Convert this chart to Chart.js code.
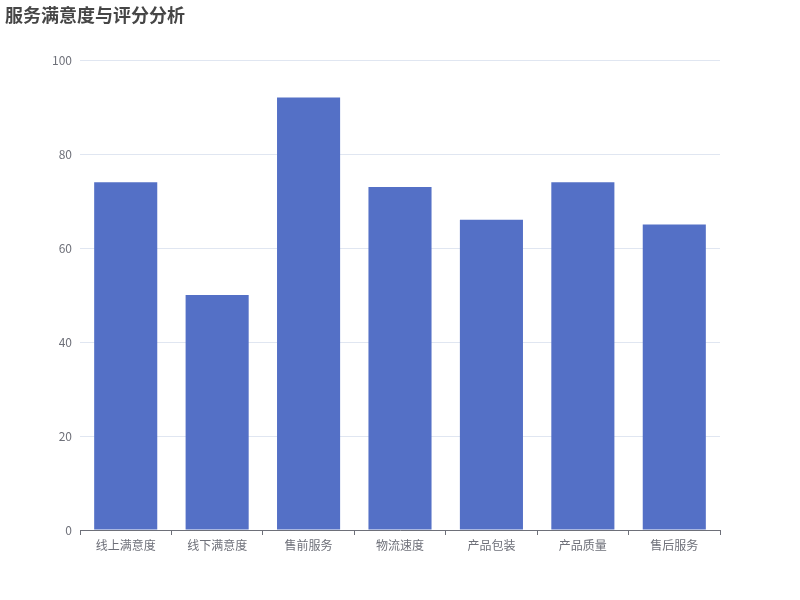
<!DOCTYPE html>
<html>
<head>
<meta charset="utf-8">
<style>
html,body{margin:0;padding:0;background:#fff;}
#wrap{width:800px;height:600px;position:relative;}
</style>
<script src="https://cdn.jsdelivr.net/npm/chart.js@4/dist/chart.umd.min.js"></script>
</head>
<body>
<div id="wrap"><canvas id="c" width="800" height="600"></canvas></div>
<script>
const titleText = '服务满意度与评分分析';
const categories = ['线上满意度','线下满意度','售前服务','物流速度','产品包装','产品质量','售后服务'];
const scores = [74, 50, 92, 73, 66, 74, 65];
const yTicks = [0, 20, 40, 60, 80, 100];

const FONT = '"Noto Sans CJK SC", "Noto Sans", sans-serif';

const titlePlugin = {
  id: 'titleDraw',
  afterDraw(chart) {
    const ctx = chart.ctx;
    ctx.save();
    ctx.font = 'bold 18px ' + FONT;
    ctx.fillStyle = '#464646';
    ctx.textAlign = 'left';
    ctx.textBaseline = 'middle';
    ctx.fillText(titleText, 5, 15);
    ctx.restore();
  }
};

new Chart(document.getElementById('c'), {
  type: 'bar',
  data: {
    labels: categories,
    datasets: [{
      data: scores,
      backgroundColor: '#5470c6',
      borderWidth: 0,
      barPercentage: 0.69,
      categoryPercentage: 1.0
    }]
  },
  options: {
    responsive: false,
    animation: false,
    devicePixelRatio: 1,
    layout: { padding: { top: 60, right: 80, left: 0, bottom: 0 } },
    plugins: { legend: { display: false }, title: { display: false }, tooltip: { enabled: false } },
    scales: {
      x: {
        offset: true,
        afterFit(scale) { scale.height = 70; },
        grid: {
          offset: true,
          drawOnChartArea: false,
          drawTicks: true,
          tickLength: 5,
          color: '#6e7079',
          lineWidth: 1
        },
        border: { display: true, color: '#6e7079', width: 1 },
        ticks: {
          color: '#6e7079',
          font: { family: FONT, size: 12 },
          padding: 3,
          maxRotation: 0,
          autoSkip: false
        }
      },
      y: {
        min: 0,
        max: 100,
        afterFit(scale) { scale.width = 80; },
        afterBuildTicks(scale) { scale.ticks = yTicks.map(v => ({ value: v })); },
        grid: { color: '#e0e6f1', drawTicks: false, lineWidth: 1 },
        border: { display: false },
        ticks: {
          color: '#6e7079',
          font: { family: FONT, size: 12 },
          padding: 8
        }
      }
    }
  },
  plugins: [titlePlugin]
});
</script>
</body>
</html>
